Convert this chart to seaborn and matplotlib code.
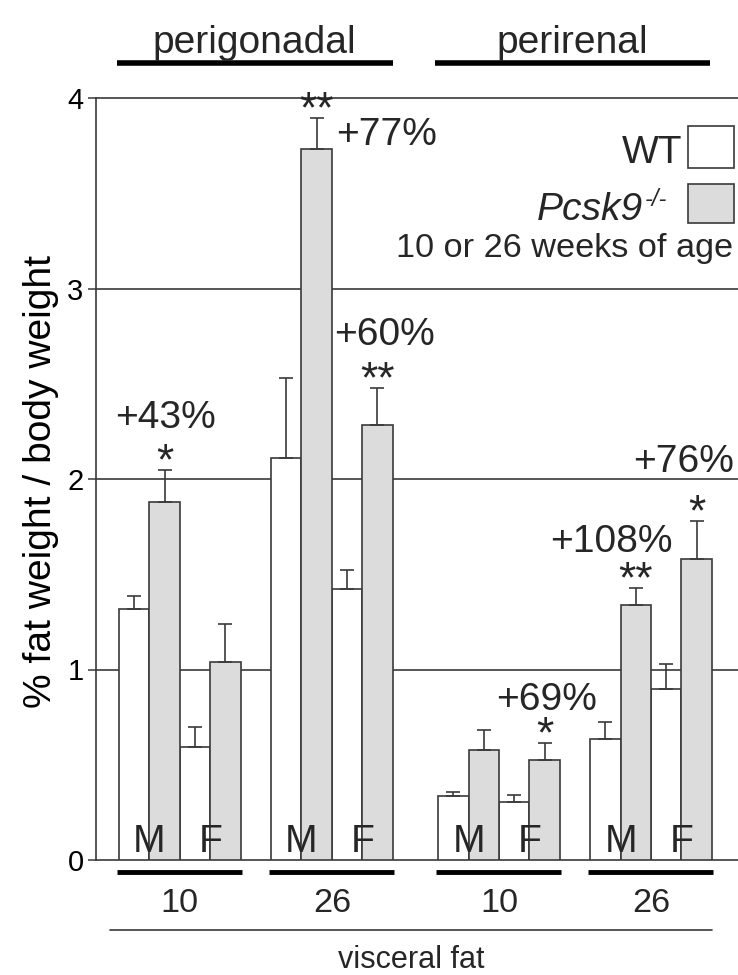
import numpy as np
import pandas as pd
import matplotlib
matplotlib.use("Agg")
import matplotlib.pyplot as plt
import seaborn as sns
from matplotlib.patches import Rectangle

# ---------------- data ----------------
regions = ["perigonadal", "perigonadal", "perirenal", "perirenal"]
ages = ["10", "26", "10", "26"]
sexes = ["M", "F"]
genotypes = ["WT", "Pcsk9-/-"]
# order: (group1 M, group1 F, group2 M, group2 F, ...)
wt_mean = [1.318, 0.593, 2.11, 1.422, 0.336, 0.304, 0.637, 0.898]
wt_sem = [0.068, 0.107, 0.42, 0.10, 0.021, 0.037, 0.087, 0.13]
ko_mean = [1.881, 1.041, 3.73, 2.283, 0.577, 0.525, 1.339, 1.58]
ko_sem = [0.166, 0.20, 0.165, 0.195, 0.107, 0.089, 0.09, 0.20]
pct_labels = ["+43%", "+77%", "+60%", "+69%", "+108%", "+76%"]
star_labels = ["*", "**", "**", "*", "**", "*"]
star_bar_index = [0, 2, 3, 5, 6, 7]   # which (group, sex) KO bar carries the star
yticks = [0, 1, 2, 3, 4]
ylabel = "% fat weight / body weight"
xlabel = "visceral fat"
legend_note = "10 or 26 weeks of age"

# ---------------- style ----------------
sns.set_theme(style="white")
FAM = "Liberation Sans"
plt.rcParams["font.family"] = [FAM, "DejaVu Sans"]
K = 0.85

INK = "#3a3a3a"
GREY = "#dcdcdc"

# ---------------- layout of bars ----------------
gaps = [0.0, 1.0, 1.5, 1.0]
group_start = np.cumsum([g + (4 if i > 0 else 0) for i, g in enumerate(gaps)])
rows = []
for gi in range(4):
    for si, sex in enumerate(sexes):
        k = gi * 2 + si
        base = group_start[gi] + 2 * si
        rows.append(dict(pos=base, genotype=genotypes[0], value=wt_mean[k],
                         sem=wt_sem[k], region=regions[gi], age=ages[gi], sex=sex))
        rows.append(dict(pos=base + 1, genotype=genotypes[1], value=ko_mean[k],
                         sem=ko_sem[k], region=regions[gi], age=ages[gi], sex=sex))
df = pd.DataFrame(rows)

fig = plt.figure(figsize=(7.38, 9.75), dpi=100)
ax = fig.add_axes([96 / 738, 1 - 860 / 975, (738 - 96) / 738, (860 - 98) / 975])

sns.barplot(data=df, x="pos", y="value", hue="genotype", native_scale=True,
            dodge=False, width=1.0, palette={genotypes[0]: "white", genotypes[1]: GREY},
            edgecolor=INK, linewidth=1.2, errorbar=None, legend=False, ax=ax, zorder=2)

for _, r in df.iterrows():
    ax.errorbar(r["pos"], r["value"], yerr=[[0], [r["sem"]]], fmt="none",
                ecolor=INK, elinewidth=1.2, capsize=4.7, capthick=1.2, zorder=3)

ax.set_xlim(-1.257, 19.86)
ax.set_ylim(0, 4)
for yv in yticks:
    ax.axhline(yv, color=INK, lw=1.2, zorder=0.5, clip_on=False)

for s in ["top", "right", "bottom"]:
    ax.spines[s].set_visible(False)
ax.spines["left"].set_color(INK)
ax.spines["left"].set_linewidth(1.2)
ax.set_xticks([])
ax.set_xlabel("")
ax.set_yticks(yticks)
ax.set_yticklabels([str(v) for v in yticks])
ax.tick_params(axis="y", left=True, length=6, width=1.1, color=INK, pad=3,
               labelsize=21, labelcolor="black")
ax.set_ylabel(ylabel, fontsize=33 * K, color="black")
ax.yaxis.set_label_coords(-0.058, 0.497)

BIG = 33 * K

# M / F letters inside bars
for gi in range(4):
    for si, sex in enumerate(sexes):
        ax.text(group_start[gi] + 2 * si + 0.5, 0.043, sex, ha="center",
                va="baseline", fontsize=BIG, zorder=4)

# stars above KO bars
for lab, k in zip(star_labels, star_bar_index):
    gi, si = divmod(k, 2)
    x = group_start[gi] + 2 * si + 1
    top = ko_mean[k] + ko_sem[k]
    ax.annotate(lab, (x, top), xytext=(0, -3), textcoords="offset points",
                ha="center", va="baseline", fontsize=32, annotation_clip=False)

# percentage labels
pct_pos = [(1.03, 2.268), (8.3, 3.753), (8.22, 2.703), (13.55, 0.787),
           (15.68, 1.617), (18.07, 2.037)]
for lab, (x, y) in zip(pct_labels, pct_pos):
    ax.text(x, y, lab, ha="center", va="baseline", fontsize=BIG)

# top region labels with thick lines
for name, x0, x1 in [(regions[0], -0.57, 8.5), (regions[2], 9.9, 18.94)]:
    ax.plot([x0, x1], [4.184, 4.184], color="black", lw=4, clip_on=False,
            solid_capstyle="butt")
    ax.text((x0 + x1) / 2, 4.236, name, ha="center", va="baseline", fontsize=BIG)

# bottom age labels with thick lines
for gi in range(4):
    x0 = group_start[gi] - 0.57
    x1 = group_start[gi] + 3.55
    ax.plot([x0, x1], [-0.061, -0.061], color="black", lw=3.5, clip_on=False,
            solid_capstyle="butt")
    ax.text(group_start[gi] + 1.5, -0.272, ages[gi], ha="center", va="baseline",
            fontsize=29 * K)
ax.plot([-0.8, 19.0], [-0.367, -0.367], color=INK, lw=1.2, clip_on=False)
ax.text(9.1, -0.567, xlabel, ha="center", va="baseline", fontsize=26 * K)

# legend (manual)
ax.add_patch(Rectangle((18.22, 3.633), 1.51, 0.22, facecolor="white",
                       edgecolor=INK, lw=1.2, clip_on=False, zorder=4))
ax.add_patch(Rectangle((18.22, 3.344), 1.51, 0.205, facecolor=GREY,
                       edgecolor=INK, lw=1.2, clip_on=False, zorder=4))
ax.text(18.02, 3.659, "WT", ha="right", va="baseline", fontsize=BIG)
t = ax.text(16.74, 3.36, "Pcsk9", ha="right", va="baseline", fontsize=BIG,
            style="italic")
ax.annotate("-/-", xy=(1.0, 0.62), xycoords=t, xytext=(1, 0),
            textcoords="offset points", ha="left", va="baseline",
            fontsize=20 * K, style="italic")
ax.text(19.69, 3.165, legend_note, ha="right", va="baseline", fontsize=29 * K)

fig.savefig("out.png", dpi=100)
